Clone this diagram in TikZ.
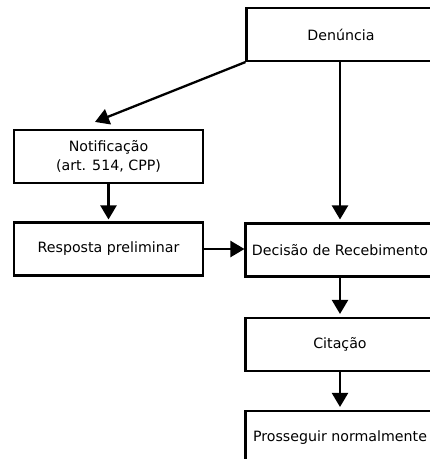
\documentclass[tikz,border=0pt]{standalone}
\usepackage{fontspec}
\setmainfont{DejaVu Sans}
\usetikzlibrary{arrows.meta,calc}
\begin{document}
\begin{tikzpicture}[x=1pt,y=-1pt,
  box/.style={draw=black,line width=2.1pt,fill=white,minimum width=189pt,minimum height=53pt,
    inner sep=0pt,align=center,font=\fontsize{14.2}{19}\selectfont},
  conn/.style={line width=2.3pt,-{Triangle[width=16pt,length=14pt]}}]
\useasboundingbox (0,0) rectangle (430,459);
\fill[white] (0,0) rectangle (430,459);
\clip (0,0) rectangle (430,459);
\node[box] (den) at (341,34.5) {Denúncia};
\node[box] (notif) at (108.5,156.5) {Notificação\\(art. 514, CPP)};
\node[box] (resp) at (108.5,249) {Resposta preliminar};
\node[box] (dec) at (340,250) {Decisão de Recebimento};
\node[box] (cit) at (340,344.5) {Citação};
\node[box] (pros) at (340,437.5) {Prosseguir normalmente};
\coordinate (dtip) at ($(notif.north)+(-13.5,-7)$);
\draw[conn] (den.south west) -- (dtip);
\draw[conn,shorten >=3pt] (den.south -| dec.north) -- (dec.north);
\draw[conn,shorten >=2pt] (notif.south) -- (resp.north);
\draw[conn] (resp.east) -- (dec.west |- resp.east);
\draw[conn,shorten >=3pt] (dec.south) -- (cit.north);
\draw[conn,shorten >=3pt] (cit.south) -- (pros.north);
\end{tikzpicture}
\end{document}
